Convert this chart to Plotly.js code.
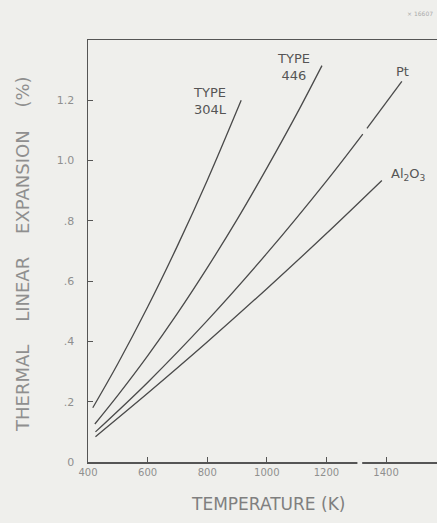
<!DOCTYPE html>
<html>
<head>
<meta charset="utf-8">
<script src="https://cdn.plot.ly/plotly-3.0.1.min.js"></script>
<style>
  html, body { margin: 0; padding: 0; background: #efefec; }
  #chart { width: 437px; height: 523px; }
</style>
</head>
<body>
<div id="chart"></div>
<script>
// Temperature (K) and thermal linear expansion (%)
const t304L = [416, 500, 600, 700, 800, 914];
const e304L = [0.18, 0.326, 0.514, 0.717, 0.934, 1.20];

const t446 = [423, 500, 600, 700, 800, 900, 1000, 1100, 1185];
const e446 = [0.126, 0.221, 0.352, 0.493, 0.644, 0.804, 0.975, 1.154, 1.315];

const tPt = [425, 600, 800, 1000, 1200, 1322, 1330, 1336, 1453];
const ePt = [0.10, 0.264, 0.469, 0.692, 0.932, 1.088, null, 1.107, 1.263];

const tAl2O3 = [425, 600, 800, 1000, 1200, 1386];
const eAl2O3 = [0.084, 0.228, 0.398, 0.575, 0.758, 0.934];

const xTickVals = [400, 600, 800, 1000, 1200, 1400];
const xTickText = ['400', '600', '800', '1000', '1200', '1400'];
const yTickVals = [0, 0.2, 0.4, 0.6, 0.8, 1.0, 1.2];
const yTickText = ['0', '.2', '.4', '.6', '.8', '1.0', '1.2'];

const curveLabels = ['TYPE<br>304L', 'TYPE<br>446', 'Pt', 'Al<sub>2</sub>O<sub>3</sub>'];

const lineStyle = {color: '#4a4a4a', width: 1.3, shape: 'spline', smoothing: 1};
const mk = (x, y, name) => ({x: x, y: y, name: name, type: 'scatter', mode: 'lines',
  line: lineStyle, connectgaps: false, hoverinfo: 'x+y+name'});

const data = [
  mk(t304L, e304L, 'Type 304L'),
  mk(t446, e446, 'Type 446'),
  mk(tPt, ePt, 'Pt'),
  mk(tAl2O3, eAl2O3, 'Al2O3')
];

const bg = '#efefec';
const labelFont = {family: 'DejaVu Sans, sans-serif', size: 13, color: '#555'};

const layout = {
  width: 437, height: 523,
  paper_bgcolor: bg, plot_bgcolor: bg,
  margin: {l: 88, r: 0, t: 40, b: 61},
  showlegend: false,
  xaxis: {
    range: [400, 1571], showgrid: false, zeroline: false,
    showline: true, mirror: true, linecolor: '#555', linewidth: 1.5,
    ticks: 'inside', ticklen: 5, tickcolor: '#555', tickwidth: 1,
    tickvals: xTickVals, ticktext: xTickText, ticklabelstandoff: 0,
    tickfont: {family: 'DejaVu Sans, sans-serif', size: 10, color: '#8f8f8f'}
  },
  yaxis: {
    range: [0, 1.4], showgrid: false, zeroline: false,
    showline: true, mirror: false, linecolor: '#555', linewidth: 1.5,
    ticks: 'inside', ticklen: 5, tickcolor: '#555', tickwidth: 1,
    tickvals: yTickVals, ticktext: yTickText, ticklabelstandoff: 10,
    tickfont: {family: 'DejaVu Sans, sans-serif', size: 11, color: '#8f8f8f'}
  },
  shapes: [
    {type: 'rect', xref: 'x', yref: 'paper', x0: 1304, x1: 1320, y0: -0.006, y1: 0.006,
     fillcolor: bg, line: {width: 0}, layer: 'above'}
  ],
  annotations: [
    {x: 810, y: 1.199, xref: 'x', yref: 'y', text: curveLabels[0], showarrow: false, align: 'center', font: labelFont},
    {x: 1088, y: 1.309, xref: 'x', yref: 'y', text: curveLabels[1], showarrow: false, align: 'center', font: labelFont},
    {x: 1454, y: 1.296, xref: 'x', yref: 'y', text: curveLabels[2], showarrow: false, font: labelFont},
    {x: 1474, y: 0.954, xref: 'x', yref: 'y', text: curveLabels[3], showarrow: false, font: labelFont},
    {x: 22, y: 254, xref: 'paper', yref: 'paper', text: 'THERMAL    LINEAR    EXPANSION    (%)',
     showarrow: false, textangle: -90, xanchor: 'center', yanchor: 'middle',
     font: {family: 'DejaVu Sans, sans-serif', size: 18, color: '#8f8f8f'}},
    {x: 268, y: 504, xref: 'paper', yref: 'paper', text: 'TEMPERATURE (K)', showarrow: false,
     xanchor: 'center', yanchor: 'middle',
     font: {family: 'DejaVu Sans, sans-serif', size: 17, color: '#7f7f7f'}},
    {x: 420, y: 14, xref: 'paper', yref: 'paper', text: '× 16607', showarrow: false,
     xanchor: 'center', yanchor: 'middle',
     font: {family: 'DejaVu Sans, sans-serif', size: 6, color: '#aaa'}}
  ]
};

// Convert pixel-positioned paper annotations to paper fractions
const plotW = 437 - 88, plotH = 523 - 40 - 61;
layout.annotations.forEach(a => {
  if (a.xref === 'paper') {
    a.x = (a.x - 88) / plotW;
    a.y = (523 - 61 - a.y) / plotH;
  }
});

Plotly.newPlot('chart', data, layout, {displayModeBar: false, staticPlot: true});
</script>
</body>
</html>
